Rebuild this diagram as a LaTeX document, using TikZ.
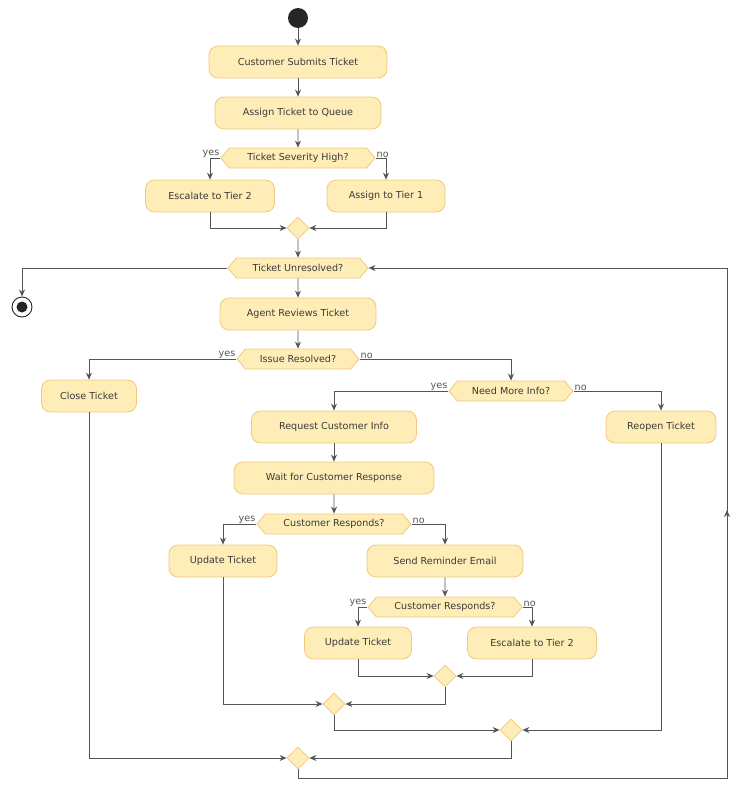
\documentclass[tikz,border=0pt]{standalone}
\usepackage{fontspec}
\setmainfont{DejaVu Sans}
\usetikzlibrary{shapes.symbols,shapes.geometric,arrows.meta}
\definecolor{bfill}{HTML}{FEEDB7}
\definecolor{bdraw}{HTML}{F3C77C}
\definecolor{ln}{HTML}{555555}
\definecolor{tx}{HTML}{3A3A3A}
\begin{document}
\begin{tikzpicture}[x=1pt,y=-1pt,
  every node/.style={font=\fontsize{9.6}{11}\selectfont, text=tx},
  act/.style={draw=bdraw, fill=bfill, rounded corners=9pt, minimum height=32pt, inner sep=0pt, line width=0.8pt},
  dec/.style={draw=bdraw, fill=bfill, signal, signal to=east and west, signal pointer angle=100, minimum height=20pt, inner sep=1pt, line width=0.8pt},
  mrg/.style={draw=bdraw, fill=bfill, diamond, minimum width=22pt, minimum height=22pt, inner sep=0pt, line width=0.8pt},
  lbl/.style={text=ln, font=\fontsize{9.6}{11}\selectfont, inner sep=1pt},
  line/.style={draw=ln, line width=0.8pt},
  arr/.style={line, -{Stealth[length=7pt,width=6pt]}}]
\useasboundingbox (0,0) rectangle (751,800);
\node[circle, fill=black!85, minimum size=20pt, inner sep=0pt] (start) at (298,18) {};
\node[act, minimum width=178pt] (a1) at (298,62) {Customer Submits Ticket};
\node[act, minimum width=166pt] (a2) at (298,113) {Assign Ticket to Queue};
\node[dec, minimum width=154pt] (d1) at (298,158) {Ticket Severity High?};
\node[act, minimum width=129pt] (a3) at (210,196) {Escalate to Tier 2};
\node[act, minimum width=118pt] (a4) at (386,196) {Assign to Tier 1};
\node[mrg] (m1) at (298,228) {};
\node[dec, minimum width=140pt] (unres) at (298,268) {Ticket Unresolved?};
\node[circle, draw=black!85, fill=white, line width=0.9pt, minimum size=20pt, inner sep=0pt] (endc) at (22,307) {};
\node[circle, fill=black!85, minimum size=11pt, inner sep=0pt] (endi) at (22,307) {};
\node[act, minimum width=156pt] (a5) at (298,314) {Agent Reviews Ticket};
\node[dec, minimum width=122pt] (d2) at (298,359) {Issue Resolved?};
\node[act, minimum width=95pt] (close) at (89,396) {Close Ticket};
\node[dec, minimum width=124pt] (d3) at (511,391) {Need More Info?};
\node[act, minimum width=165pt] (req) at (334,427) {Request Customer Info};
\node[act, minimum width=110pt] (reopen) at (661,427) {Reopen Ticket};
\node[act, minimum width=200pt] (wait) at (334,478) {Wait for Customer Response};
\node[dec, minimum width=154pt] (d4) at (334,524) {Customer Responds?};
\node[act, minimum width=108pt] (up1) at (223,561) {Update Ticket};
\node[act, minimum width=156pt] (rem) at (445,561) {Send Reminder Email};
\node[dec, minimum width=154pt] (d5) at (445,607) {Customer Responds?};
\node[act, minimum width=107pt] (up2) at (358,643) {Update Ticket};
\node[act, minimum width=129pt] (esc2) at (532,643) {Escalate to Tier 2};
\node[mrg] (m2) at (445,676) {};
\node[mrg] (m3) at (334,704) {};
\node[mrg] (m4) at (511,730) {};
\node[mrg] (m5) at (298,758) {};
\coordinate (lb) at (727,778);
\coordinate (lm) at (727,510);
\coordinate (lt) at (727,268);
% labels
\foreach \d in {d1,d2,d3,d4,d5}{
  \node[lbl, anchor=south east] at ([yshift=-1pt]\d.west) {yes};
  \node[lbl, anchor=south west] at ([yshift=-1pt]\d.east) {no};
}
% edges
\draw[arr] (start) -- (a1);
\draw[arr] (a1) -- (a2);
\draw[arr] (a2) -- (d1);
\draw[arr] (d1.west) -| (a3.north);
\draw[arr] (d1.east) -| (a4.north);
\draw[arr] (a3.south) |- (m1.west);
\draw[arr] (a4.south) |- (m1.east);
\draw[arr] (m1) -- (unres);
\draw[arr] (unres.west) -| (endc.north);
\draw[arr] (unres) -- (a5);
\draw[arr] (a5) -- (d2);
\draw[arr] (d2.west) -| (close.north);
\draw[arr] (d2.east) -| (d3.north);
\draw[arr] (d3.west) -| (req.north);
\draw[arr] (d3.east) -| (reopen.north);
\draw[arr] (req) -- (wait);
\draw[arr] (wait) -- (d4);
\draw[arr] (d4.west) -| (up1.north);
\draw[arr] (d4.east) -| (rem.north);
\draw[arr] (rem) -- (d5);
\draw[arr] (d5.west) -| (up2.north);
\draw[arr] (d5.east) -| (esc2.north);
\draw[arr] (up2.south) |- (m2.west);
\draw[arr] (esc2.south) |- (m2.east);
\draw[arr] (m2.south) |- (m3.east);
\draw[arr] (up1.south) |- (m3.west);
\draw[arr] (m3.south) |- (m4.west);
\draw[arr] (reopen.south) |- (m4.east);
\draw[arr] (m4.south) |- (m5.east);
\draw[arr] (close.south) |- (m5.west);
\draw[line] (m5.south) |- (lb) -- (lt);
\draw[arr] (lb) -- (lm);
\draw[arr] (lt) -- (unres.east);
\end{tikzpicture}
\end{document}
